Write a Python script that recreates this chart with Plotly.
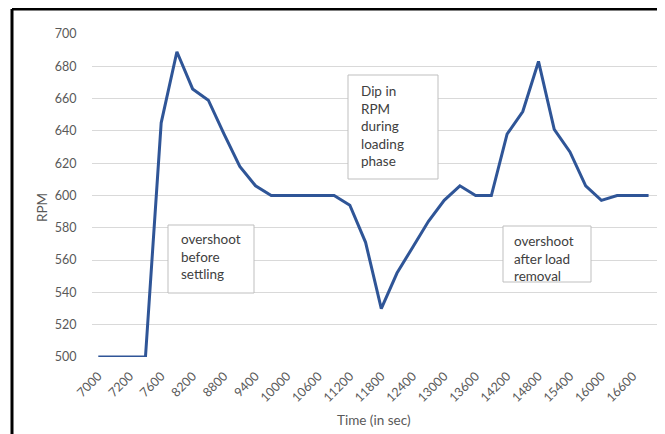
import plotly.graph_objects as go

# ---- data ----
time_sec = [7000, 7100, 7200, 7400, 7600, 7900, 8200, 8500, 8800, 9100,
            9400, 9700, 10000, 10300, 10600, 10900, 11200, 11500, 11800, 12100,
            12400, 12700, 13000, 13300, 13600, 13900, 14200, 14500, 14800, 15100,
            15400, 15700, 16000, 16300, 16600, 16900]
rpm = [500, 500, 500, 500, 645, 689, 666, 659, 638, 618,
       606, 600, 600, 600, 600, 600, 594, 571, 530, 552,
       568, 584, 597, 606, 600, 600, 638, 652, 683, 641,
       627, 606, 597, 600, 600, 600]
tick_labels = [7000, 7200, 7600, 8200, 8800, 9400, 10000, 10600, 11200, 11800,
               12400, 13000, 13600, 14200, 14800, 15400, 16000, 16600]
notes = ["overshoot<br>before<br>settling",
         "Dip in<br>RPM<br>during<br>loading<br>phase",
         "overshoot<br>after load<br>removal"]

OFF = 8  # page body margin
W, H = 665 - OFF, 434 - OFF
L, R, T, B = 92 - OFF, 7, 34 - OFF, 77
PW, PH = W - L - R, H - T - B

def px(x):  # page pixel -> paper
    return (x - OFF - L) / PW

def py(y):
    return (H - B - (y - OFF)) / PH

FONT = "Lato, 'Open Sans', sans-serif"
GRAY = "#595959"

x_cat = [str(t) for t in time_sec]

fig = go.Figure()
fig.add_trace(go.Scatter(
    x=x_cat, y=rpm, mode="lines",
    line=dict(color="#2F5597", width=3),
    hoverinfo="x+y", showlegend=False,
))

fig.update_layout(
    width=W, height=H,
    margin=dict(l=L, r=R, t=T, b=B, autoexpand=False),
    paper_bgcolor="white", plot_bgcolor="white",
    font=dict(family=FONT, color=GRAY, size=12.5),
    xaxis=dict(
        type="category",
        categoryorder="array", categoryarray=x_cat,
        range=[-0.4, len(x_cat) - 0.4],
        tickmode="array",
        tickvals=[str(t) for t in tick_labels],
        ticktext=[str(t) for t in tick_labels],
        tickangle=-45,
        showgrid=False, zeroline=False,
        showline=False, automargin=False,
        ticks="outside", ticklen=6, tickcolor="rgba(0,0,0,0)",
        tickfont=dict(size=12.5, color=GRAY),
    ),
    yaxis=dict(
        range=[500, 700], dtick=20, tick0=500,
        showgrid=True, gridcolor="#D9D9D9", gridwidth=1,
        zeroline=False, showline=False, automargin=False,
        ticks="outside", ticklen=12, tickcolor="rgba(0,0,0,0)",
        tickfont=dict(size=12.5, color=GRAY),
    ),
)

# axis titles
fig.add_annotation(text="Time (in sec)", xref="paper", yref="paper",
                   x=px(374), y=py(420), xanchor="center", yanchor="middle",
                   showarrow=False, font=dict(size=13.5, color=GRAY, family=FONT))
fig.add_annotation(text="RPM", xref="paper", yref="paper",
                   x=px(42), y=py(208), xanchor="center", yanchor="middle",
                   textangle=-90, showarrow=False,
                   font=dict(size=13.5, color=GRAY, family=FONT))

# text boxes
boxes = [
    ((168, 225, 254, 293), (180, 230)),
    ((348, 75, 438, 179), (360, 82)),
    ((503, 226, 591, 282), (513, 232)),
]
for (x0, y0, x1, y1), (tx, ty) in boxes:
    fig.add_shape(type="rect", xref="paper", yref="paper",
                  x0=px(x0), x1=px(x1), y0=py(y0), y1=py(y1),
                  line=dict(color="#BFBFBF", width=1), fillcolor="white",
                  layer="above")
for (box, (tx, ty)), note in zip(boxes, notes):
    fig.add_annotation(text=note, xref="paper", yref="paper",
                       x=px(tx), y=py(ty), xanchor="left", yanchor="top",
                       align="left", showarrow=False, borderpad=0,
                       font=dict(size=13.5, color="#404040", family=FONT))

# outer frame (top and left edges)
fig.add_shape(type="line", xref="paper", yref="paper",
              x0=px(12), x1=px(680), y0=py(9), y1=py(9),
              line=dict(color="black", width=3))
fig.add_shape(type="line", xref="paper", yref="paper",
              x0=px(12), x1=px(12), y0=py(9), y1=py(450),
              line=dict(color="black", width=3))

fig.write_html("out.html")
